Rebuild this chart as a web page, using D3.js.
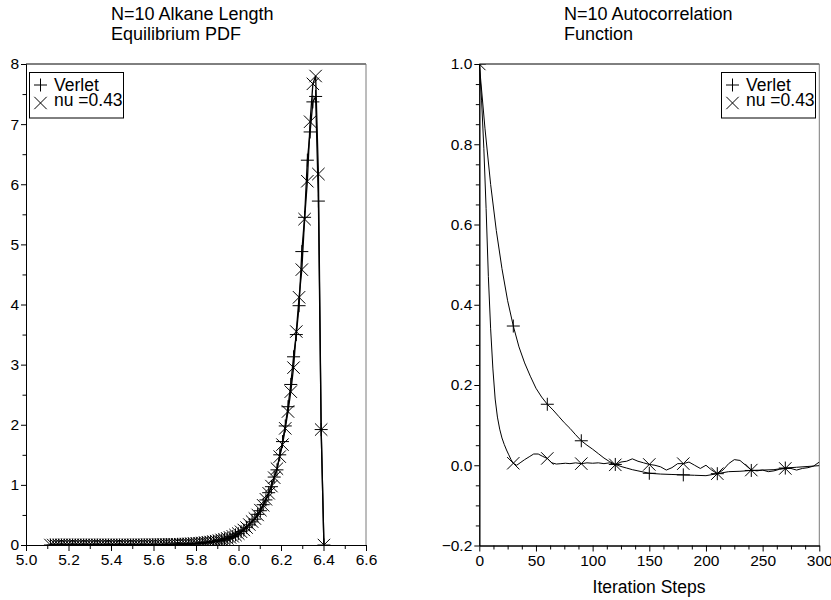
<!DOCTYPE html>
<html lang="en">
<head>
<meta charset="UTF-8">
<title>N=10 Alkane Length / Autocorrelation</title>
<style>
  body { margin: 0; background: #fff; }
  svg { display: block; font-family: "Liberation Sans", Arial, sans-serif; }
  .axis text { font-size: 15.5px; fill: #000; }
  .axis path, .axis line { stroke: #000; stroke-width: 1; }
  .legend text, .axis-label { font-size: 17.5px; fill: #000; }
  .title { font-size: 18px; fill: #000; }
  .series { fill: none; stroke: #000; }
  .mark { fill: none; stroke: #000; stroke-width: 1; }
</style>
</head>
<body>
<svg width="831" height="600"></svg>
<script src="https://d3js.org/d3.v7.min.js"></script>
<script>
// histogram bin centres of the alkane length
const pdfX = [
  5.115, 5.128, 5.141, 5.154, 5.167, 5.180, 5.193, 5.206, 5.219, 5.232,
  5.245, 5.258, 5.271, 5.284, 5.297, 5.310, 5.323, 5.336, 5.349, 5.362,
  5.375, 5.388, 5.401, 5.414, 5.427, 5.440, 5.453, 5.466, 5.479, 5.492,
  5.505, 5.518, 5.531, 5.544, 5.557, 5.570, 5.583, 5.596, 5.609, 5.622,
  5.635, 5.648, 5.661, 5.674, 5.687, 5.700, 5.713, 5.726, 5.739, 5.752,
  5.765, 5.778, 5.791, 5.804, 5.817, 5.830, 5.843, 5.856, 5.869, 5.882,
  5.895, 5.908, 5.921, 5.934, 5.947, 5.960, 5.973, 5.986, 5.999, 6.012,
  6.025, 6.038, 6.051, 6.064, 6.077, 6.090, 6.103, 6.116, 6.129, 6.142,
  6.155, 6.168, 6.181, 6.194, 6.207, 6.220, 6.233, 6.246, 6.259, 6.272,
  6.285, 6.298, 6.311, 6.324, 6.337, 6.350, 6.363, 6.376, 6.389, 6.402
];
const pdfVerlet = [
  0, 0, 0, 0, 0, 0, 0, 0, 0, 0,
  0, 0, 0, 0, 0, 0, 0, 0, 0, 0,
  0, 0, 0, 0, 0, 0, 0, 0, 0, 0,
  0.001, 0.001, 0.001, 0.001, 0.002, 0.002, 0.002, 0.003, 0.003, 0.004,
  0.004, 0.005, 0.006, 0.006, 0.008, 0.009, 0.011, 0.011, 0.014, 0.015,
  0.018, 0.019, 0.023, 0.025, 0.029, 0.034, 0.038, 0.044, 0.051, 0.056,
  0.066, 0.073, 0.083, 0.098, 0.108, 0.128, 0.142, 0.168, 0.188, 0.222,
  0.248, 0.295, 0.335, 0.385, 0.43, 0.51, 0.57, 0.67, 0.75, 0.87,
  0.97, 1.13, 1.25, 1.50, 1.72, 1.98, 2.30, 2.67, 3.13, 3.50,
  3.98, 4.88, 5.45, 6.40, 6.87, 7.37, 7.46, 5.72, 1.92, 0
];
const pdfNu = [
  0, 0, 0, 0, 0, 0, 0, 0, 0, 0,
  0, 0, 0, 0, 0, 0, 0, 0, 0, 0,
  0, 0, 0, 0, 0, 0, 0, 0, 0, 0,
  0.001, 0.001, 0.001, 0.001, 0.001, 0.002, 0.002, 0.003, 0.003, 0.004,
  0.004, 0.005, 0.006, 0.007, 0.008, 0.009, 0.010, 0.012, 0.013, 0.015,
  0.017, 0.020, 0.022, 0.026, 0.030, 0.034, 0.039, 0.045, 0.050, 0.057,
  0.065, 0.074, 0.085, 0.097, 0.11, 0.126, 0.144, 0.165, 0.19, 0.22,
  0.25, 0.29, 0.34, 0.39, 0.44, 0.50, 0.58, 0.66, 0.76, 0.86,
  0.98, 1.12, 1.27, 1.47, 1.67, 1.94, 2.22, 2.55, 2.95, 3.55,
  4.12, 4.58, 5.42, 6.05, 7.04, 7.67, 7.80, 6.17, 1.92, 0
];

// autocorrelation vs iteration steps
const acfVerletT = [
  0, 5, 10, 15, 20, 25, 30, 35, 40, 45, 50, 55, 60, 65, 70, 75, 80, 85, 90,
  95, 100, 105, 110, 115, 120, 125, 130, 135, 140, 145, 150, 160, 170, 180,
  190, 200, 210, 220, 230, 240, 250, 260, 270, 280, 290, 300
];
const acfVerlet = [
  1.0, 0.84, 0.70, 0.585, 0.49, 0.41, 0.347, 0.295, 0.255, 0.222, 0.192, 0.17, 0.152, 0.138, 0.122, 0.106, 0.092, 0.076, 0.061,
  0.05, 0.04, 0.029, 0.018, 0.009, 0.002, -0.003, -0.007, -0.011, -0.014, -0.017, -0.02, -0.022, -0.023, -0.024,
  -0.025, -0.026, -0.021, -0.016, -0.015, -0.013, -0.012, -0.011, -0.007, -0.005, -0.003, -0.001
];
const acfNuT = [
  0, 2, 4, 6, 8, 10, 12, 14, 16, 18, 20, 22, 24, 26, 28, 30, 33, 36, 40, 44,
  48, 52, 56, 60, 64, 68, 72, 76, 80, 85, 90, 95, 100, 105, 110, 115, 120,
  125, 130, 135, 140, 145, 150, 155, 160, 165, 170, 175, 180, 185, 190, 195,
  200, 205, 210, 215, 220, 225, 230, 235, 240, 245, 250, 255, 260, 265, 270,
  275, 280, 285, 290, 295, 300
];
const acfNu = [
  1.0, 0.91, 0.79, 0.64, 0.47, 0.34, 0.24, 0.165, 0.12, 0.09, 0.068, 0.052, 0.038, 0.026, 0.014, 0.005, 0.0, 0.006, 0.014, 0.021,
  0.028, 0.028, 0.022, 0.017, 0.006, 0.003, 0.004, 0.005, 0.004, 0.006, 0.004, 0.006, 0.005, 0.006, 0.004, 0.006, 0.001,
  0.008, 0.01, 0.016, 0.01, 0.006, 0.002, 0.0, -0.004, -0.012, -0.006, 0.004, 0.004, 0.008, 0.0, -0.008,
  0.0, -0.012, -0.021, -0.012, 0.004, 0.014, 0.012, 0.0, -0.012, -0.014, -0.012, -0.016, -0.014, -0.01, -0.008,
  -0.008, -0.012, -0.008, -0.006, -0.002, 0.008
];
const acfMarkSteps = [0, 30, 60, 90, 120, 150, 180, 210, 240, 270];

// ticks
const pdfXMajor = [5.0, 5.2, 5.4, 5.6, 5.8, 6.0, 6.2, 6.4, 6.6];
const pdfXMinor = [5.1, 5.3, 5.5, 5.7, 5.9, 6.1, 6.3, 6.5];
const pdfYMajor = [0, 1, 2, 3, 4, 5, 6, 7, 8];
const pdfYMinor = [0.5, 1.5, 2.5, 3.5, 4.5, 5.5, 6.5, 7.5];
const acfXMajor = [0, 50, 100, 150, 200, 250, 300];
const acfXMinor = [12.5, 25, 37.5, 62.5, 75, 87.5, 112.5, 125, 137.5, 162.5, 175, 187.5,
                   212.5, 225, 237.5, 262.5, 275, 287.5];
const acfYMajor = [-0.2, 0.0, 0.2, 0.4, 0.6, 0.8, 1.0];
const acfYMinor = [-0.15, -0.1, -0.05, 0.05, 0.1, 0.15, 0.25, 0.3, 0.35, 0.45, 0.5, 0.55,
                   0.65, 0.7, 0.75, 0.85, 0.9, 0.95];

const svg = d3.select('svg');

const plusPath = 'M-6.5,0H6.5M0,-6.5V6.5';
const crossPath = 'M-6.2,-6.2L6.2,6.2M-6.2,6.2L6.2,-6.2';

function panel(o) {
  const g = svg.append('g');
  const [x0, x1] = o.x.range();
  const [y0, y1] = o.y.range();
  const clipId = 'clip-' + o.id;
  svg.append('clipPath').attr('id', clipId)
    .append('rect').attr('x', x0).attr('y', y1).attr('width', x1 - x0).attr('height', y0 - y1);

  // frame top and right
  g.append('line').attr('x1', x0).attr('x2', x1).attr('y1', y1).attr('y2', y1).attr('stroke', '#000');
  g.append('line').attr('x1', x1).attr('x2', x1).attr('y1', y1).attr('y2', y0).attr('stroke', '#7a7a7a');

  // axes: minor ticks then major with labels
  g.append('g').attr('class', 'axis').attr('transform', `translate(0,${y0})`)
    .call(d3.axisBottom(o.x).tickValues(o.xMinor).tickSize(4).tickSizeOuter(0).tickFormat(''));
  g.append('g').attr('class', 'axis').attr('transform', `translate(0,${y0})`)
    .call(d3.axisBottom(o.x).tickValues(o.xMajor).tickSize(6).tickSizeOuter(0).tickPadding(3).tickFormat(o.xFmt));
  g.append('g').attr('class', 'axis').attr('transform', `translate(${x0},0)`)
    .call(d3.axisLeft(o.y).tickValues(o.yMinor).tickSize(3.5).tickSizeOuter(0).tickFormat(''));
  g.append('g').attr('class', 'axis').attr('transform', `translate(${x0},0)`)
    .call(d3.axisLeft(o.y).tickValues(o.yMajor).tickSize(5).tickSizeOuter(0).tickPadding(2).tickFormat(o.yFmt));

  const plot = g.append('g').attr('clip-path', `url(#${clipId})`);
  o.series.forEach(s => {
    const pts = s.xs.map((v, i) => [v, s.ys[i]]);
    plot.append('path')
      .attr('class', 'series')
      .attr('stroke-width', o.lineWidth)
      .attr('d', d3.line().x(d => o.x(d[0])).y(d => o.y(d[1]))(pts));
    plot.selectAll(null)
      .data(pts.filter(d => !s.marks || s.marks.includes(d[0])))
      .enter().append('path')
      .attr('class', 'mark')
      .attr('transform', d => `translate(${o.x(d[0])},${o.y(d[1])})`)
      .attr('d', s.symbol);
  });

  // legend
  const lg = g.append('g').attr('class', 'legend').attr('transform', `translate(${o.legend[0]},${o.legend[1]})`);
  lg.append('rect').attr('width', 94).attr('height', 45.5).attr('fill', '#fff').attr('stroke', '#000');
  o.series.forEach((s, i) => {
    lg.append('path').attr('class', 'mark').attr('d', s.symbol)
      .attr('transform', `translate(11,${12.5 + i * 18})`);
    lg.append('text').attr('x', 24.5).attr('y', 18 + i * 15.5).text(s.name);
  });

  // title
  const t = svg.append('text').attr('class', 'title').attr('x', o.titleX).attr('y', 19.5);
  o.title.forEach((line, i) => {
    t.append('tspan').attr('x', o.titleX).attr('y', 19.5 + i * 20).text(line);
  });
}

const xL = d3.scaleLinear().domain([5.0, 6.6]).range([26, 366]);
const yL = d3.scaleLinear().domain([0, 8]).range([545, 64]);
panel({
  id: 'pdf', x: xL, y: yL,
  xMajor: pdfXMajor, xMinor: pdfXMinor, yMajor: pdfYMajor, yMinor: pdfYMinor,
  xFmt: d3.format('.1f'), yFmt: d3.format('d'),
  lineWidth: 1.3,
  series: [
    { name: 'Verlet', xs: pdfX, ys: pdfVerlet, symbol: plusPath },
    { name: 'nu =0.43', xs: pdfX, ys: pdfNu, symbol: crossPath }
  ],
  legend: [29.5, 72.5],
  title: ['N=10 Alkane Length', 'Equilibrium PDF'], titleX: 111
});

const xR = d3.scaleLinear().domain([0, 300]).range([479.3, 819.3]);
const yR = d3.scaleLinear().domain([-0.2, 1.0]).range([545.5, 64]);
panel({
  id: 'acf', x: xR, y: yR,
  xMajor: acfXMajor, xMinor: acfXMinor, yMajor: acfYMajor, yMinor: acfYMinor,
  xFmt: d3.format('d'), yFmt: d3.format('.1f'),
  lineWidth: 1,
  series: [
    { name: 'Verlet', xs: acfVerletT, ys: acfVerlet, symbol: plusPath, marks: acfMarkSteps },
    { name: 'nu =0.43', xs: acfNuT, ys: acfNu, symbol: crossPath, marks: acfMarkSteps }
  ],
  legend: [721.5, 72.5],
  title: ['N=10 Autocorrelation', 'Function'], titleX: 564
});

svg.append('text').attr('class', 'axis-label')
  .attr('x', 649).attr('y', 593).attr('text-anchor', 'middle')
  .text('Iteration Steps');
</script>
</body>
</html>
